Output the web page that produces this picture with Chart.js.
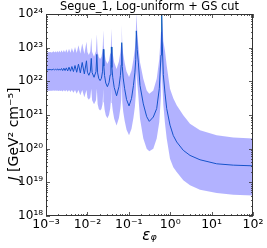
<!DOCTYPE html>
<html><head><meta charset="utf-8">
<script src="https://cdn.jsdelivr.net/npm/chart.js@4.4.0/dist/chart.umd.min.js"></script>
<style>html,body{margin:0;padding:0;background:#fff;overflow:hidden}</style>
</head><body>
<canvas id="c" width="267" height="248"></canvas>
<script>
const epsilonPhi = [0.001,0.00126,0.00139,0.00152,0.0016,0.00168,0.00178,0.00188,0.00199,0.0021,0.00223,0.00237,0.00253,0.0027,0.00289,0.0031,0.00334,0.0036,0.0039,0.00422,0.0046,0.00502,0.00552,0.00608,0.00675,0.0075,0.00844,0.0095,0.01002,0.01085,0.01176,0.0124,0.01299,0.01447,0.01613,0.0169,0.01765,0.01885,0.02026,0.0218,0.02327,0.0243,0.02495,0.02599,0.02779,0.03039,0.03323,0.03554,0.03699,0.038,0.0391,0.04094,0.04438,0.05065,0.05779,0.06263,0.06558,0.0675,0.0697,0.07319,0.07939,0.08823,0.1013,0.1163,0.1292,0.1401,0.1472,0.152,0.1596,0.1696,0.1865,0.224,0.2706,0.3128,0.3906,0.472,0.5453,0.5995,0.62,0.641,0.6814,0.7489,0.8232,0.989,1.188,1.435,2.072,3.008,5.246,13.28,33.43,100];
const jMedian = [2.19e22,2.24e22,2.19e22,2.29e22,2.19e22,2.29e22,2.19e22,2.34e22,2.14e22,2.34e22,2.14e22,2.40e22,2.09e22,2.45e22,2.09e22,2.51e22,2.04e22,2.63e22,2.00e22,2.75e22,1.95e22,2.95e22,1.86e22,3.24e22,1.78e22,3.63e22,1.66e22,4.07e22,1.86e22,1.51e22,1.95e22,4.79e22,1.82e22,1.32e22,1.95e22,6.31e22,1.78e22,1.20e22,1.05e22,1.23e22,2.00e22,8.91e22,2.82e22,1.48e22,8.91e21,6.92e21,9.12e21,1.55e22,3.09e22,1.05e23,2.57e22,1.32e22,6.61e21,3.72e21,6.92e21,1.48e22,3.09e22,1.41e23,2.75e22,1.26e22,6.03e21,2.88e21,1.86e21,3.09e21,7.41e21,1.78e22,4.47e22,3.16e23,8.91e22,3.72e22,7.59e21,2.14e21,8.91e20,6.46e20,8.71e20,1.55e21,6.03e21,6.03e22,2.00e24,1.58e23,1.58e22,4.47e21,1.55e21,5.01e20,2.45e20,1.58e20,8.91e19,6.31e19,4.68e19,3.55e19,3.24e19,3.09e19];
const jUpper = [7.24e22,7.41e22,7.24e22,7.76e22,7.24e22,7.76e22,7.24e22,7.94e22,7.24e22,8.13e22,7.24e22,8.32e22,7.24e22,8.51e22,7.24e22,8.91e22,7.08e22,9.33e22,7.08e22,9.77e22,7.08e22,1.05e23,6.92e22,1.17e23,6.76e22,1.32e23,6.46e22,1.51e23,7.41e22,6.03e22,7.76e22,2.00e23,7.41e22,5.37e22,7.94e22,2.51e23,7.59e22,5.25e22,4.57e22,5.37e22,8.32e22,3.31e23,1.17e23,6.61e22,4.17e22,3.31e22,4.17e22,6.76e22,1.23e23,3.63e23,1.15e23,6.61e22,3.72e22,2.34e22,3.89e22,7.41e22,1.35e23,4.79e23,1.23e23,6.46e22,3.55e22,1.95e22,1.35e22,2.09e22,4.47e22,9.33e22,2.09e23,1.12e24,3.16e23,1.17e23,3.72e22,1.20e22,5.37e21,4.27e21,5.37e21,1.20e22,4.68e22,2.95e23,3.98e24,7.94e23,1.58e23,7.94e22,2.95e22,6.03e21,3.16e21,1.95e21,9.77e20,5.50e20,3.55e20,2.51e20,2.14e20,2.00e20];
const jLower = [5.25e21,5.25e21,5.25e21,5.37e21,5.25e21,5.37e21,5.25e21,5.37e21,5.13e21,5.37e21,5.13e21,5.37e21,5.01e21,5.50e21,5.01e21,5.50e21,4.90e21,5.50e21,4.79e21,5.50e21,4.57e21,5.50e21,4.27e21,5.50e21,3.89e21,5.50e21,3.39e21,5.50e21,3.24e21,2.82e21,3.31e21,6.03e21,2.75e21,2.09e21,2.75e21,6.03e21,2.14e21,1.51e21,1.35e21,1.51e21,2.14e21,6.03e21,2.40e21,1.45e21,9.77e20,7.94e20,1.00e21,1.55e21,2.63e21,7.08e21,2.29e21,1.35e21,7.76e20,4.90e20,8.13e20,1.55e21,2.82e21,1.00e22,2.45e21,1.26e21,6.76e20,3.63e20,2.51e20,3.89e20,8.13e20,1.74e21,3.80e21,2.00e22,8.91e21,3.80e21,7.76e20,2.00e20,1.00e20,8.32e19,1.00e20,2.00e20,6.17e20,3.80e21,3.98e22,1.00e22,2.00e21,5.62e20,2.00e20,5.01e19,2.82e19,2.04e19,1.15e19,8.13e18,6.03e18,4.79e18,4.27e18,4.07e18];

const xTickValues = [1e-3,1e-2,1e-1,1,10,100];
const xTickLabels = ['10\u207B\u00B3','10\u207B\u00B2','10\u207B\u00B9','10\u2070','10\u00B9','10\u00B2'];
const yTickValues = [1e18,1e19,1e20,1e21,1e22,1e23,1e24];
const yTickLabels = ['10\u00B9\u2078','10\u00B9\u2079','10\u00B2\u2070','10\u00B2\u00B9','10\u00B2\u00B2','10\u00B2\u00B3','10\u00B2\u2074'];
const titleText = 'Segue_1, Log-uniform + GS cut';
const xTitle = '\u03B5\u1D69';
const yTitleSymbol = 'J';
const yTitleUnit = ' [GeV\u00B2 cm\u207B\u2075]';

const FONT = "'DejaVu Sans', sans-serif";
const pts = arr => epsilonPhi.map((e, i) => ({x: e, y: arr[i]}));

const innerTicks = {
  id: 'innerTicks',
  afterDraw(chart) {
    const {ctx, chartArea: a, scales} = chart;
    const xs = scales.x, ys = scales.y;
    ctx.save();
    ctx.strokeStyle = '#333';
    ctx.lineWidth = 0.8;
    ctx.beginPath();
    const minors = (lo, hi) => { const out = []; for (let p = lo; p < hi; p++) for (let m = 2; m <= 9; m++) out.push(m * Math.pow(10, p)); return out; };
    const tick = (scale, v, len, horiz) => {
      const p = Math.round(scale.getPixelForValue(v)) + 0.5;
      if (horiz) { ctx.moveTo(p, a.bottom); ctx.lineTo(p, a.bottom - len); ctx.moveTo(p, a.top); ctx.lineTo(p, a.top + len); }
      else { ctx.moveTo(a.left, p); ctx.lineTo(a.left + len, p); ctx.moveTo(a.right, p); ctx.lineTo(a.right - len, p); }
    };
    xTickValues.forEach(v => tick(xs, v, 4, true));
    minors(-3, 2).forEach(v => tick(xs, v, 2, true));
    yTickValues.forEach(v => tick(ys, v, 4, false));
    minors(18, 24).forEach(v => tick(ys, v, 2, false));
    ctx.stroke();
    ctx.lineWidth = 1;
    ctx.strokeRect(Math.round(a.left) + 0.5, Math.round(a.top) + 0.5, Math.round(a.right - a.left) - 1, Math.round(a.bottom - a.top) - 1);
    // y-axis title (italic symbol + upright unit), rotated
    ctx.fillStyle = '#000';
    ctx.textBaseline = 'middle';
    ctx.textAlign = 'left';
    const fItal = 'italic 14px ' + FONT, fUp = '14px ' + FONT;
    ctx.font = fItal; const w1 = ctx.measureText(yTitleSymbol).width;
    ctx.font = fUp; const w2 = ctx.measureText(yTitleUnit).width;
    const cy = 134, cx = 14;
    ctx.translate(cx, cy);
    ctx.rotate(-Math.PI / 2);
    const start = -(w1 + w2) / 2;
    ctx.font = fItal; ctx.fillText(yTitleSymbol, start, 0);
    ctx.font = fUp; ctx.fillText(yTitleUnit, start + w1, 0);
    ctx.restore();
  }
};

new Chart(document.getElementById('c'), {
  type: 'line',
  data: {
    datasets: [
      {data: pts(jUpper), fill: '+1', backgroundColor: 'rgba(0,0,255,0.3)', borderWidth: 0, pointRadius: 0, tension: 0},
      {data: pts(jLower), fill: false, borderWidth: 0, pointRadius: 0, tension: 0},
      {data: pts(jMedian), fill: false, borderColor: '#1f77b4', borderWidth: 1, pointRadius: 0, tension: 0}
    ]
  },
  options: {
    responsive: false, animation: false, devicePixelRatio: 1,
    layout: {padding: {left: 0, right: 14, top: 0, bottom: 0}},
    plugins: {
      legend: {display: false}, tooltip: {enabled: false},
      title: {display: true, fullSize: false, text: titleText, color: '#000', font: {family: FONT, size: 11.4, weight: 'normal', lineHeight: 1}, padding: {top: 1.3, bottom: 1.3}}
    },
    scales: {
      x: {
        type: 'logarithmic', min: 1e-3, max: 100,
        afterBuildTicks: s => { s.ticks = xTickValues.map(v => ({value: v})); },
        afterFit: s => { s.height = 32; },
        grid: {display: false, drawTicks: false},
        border: {display: false},
        ticks: {autoSkip: false, maxRotation: 0, padding: 1.5, color: '#000', font: {family: FONT, size: 12.5}, callback: (v, i) => xTickLabels[i]},
        title: {display: true, text: xTitle, color: '#000', font: {family: FONT, size: 15, style: 'italic'}, padding: {top: 0, bottom: 3}}
      },
      y: {
        type: 'logarithmic', min: 1e18, max: 1e24,
        afterBuildTicks: s => { s.ticks = yTickValues.map(v => ({value: v})); },
        afterFit: s => { s.width = 46; },
        grid: {display: false, drawTicks: false},
        border: {display: false},
        ticks: {autoSkip: false, padding: 3, color: '#000', font: {family: FONT, size: 12}, callback: (v, i) => yTickLabels[i]},
        title: {display: false}
      }
    }
  },
  plugins: [innerTicks]
});
</script>
</body></html>
